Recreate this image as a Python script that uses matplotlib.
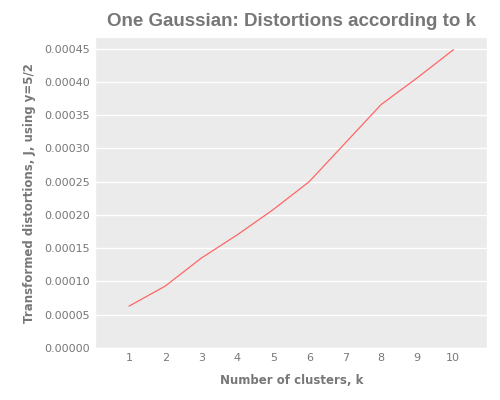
import matplotlib
matplotlib.use("Agg")
import matplotlib.pyplot as plt

k = [1, 2, 3, 4, 5, 6, 7, 8, 9, 10]
distortions = [0.000063, 0.000093, 0.000135, 0.000170, 0.000208, 0.000250, 0.000308, 0.000366, 0.000406, 0.000448]

plt.style.use("ggplot")
fig, ax = plt.subplots(figsize=(5, 4), dpi=100)
fig.subplots_adjust(left=0.19, right=0.975, bottom=0.13, top=0.907)
ax.set_facecolor("#ebebeb")
ax.plot(k, distortions, color="#ff6666", linewidth=0.9)
ax.set_xlim(0.05, 10.95)
ax.set_ylim(0, 0.000467)
ax.set_xticks(k)
ax.set_yticks([i * 0.00005 for i in range(10)])
ax.yaxis.set_major_formatter(matplotlib.ticker.FormatStrFormatter("%.5f"))
ax.grid(axis="x", visible=False)
ax.grid(axis="y", color="white", linewidth=1)
ax.tick_params(colors="#777777", labelsize=8, length=0)
for t in ax.get_xticklabels() + ax.get_yticklabels():
    t.set_color("#777777")
ax.set_title("One Gaussian: Distortions according to k", fontsize=13.5, fontweight="bold",
             color="#777777", family=["Liberation Sans", "DejaVu Sans"], pad=8)
ax.set_xlabel("Number of clusters, k", fontsize=8.5, fontweight="bold", color="#777777", labelpad=8)
ax.set_ylabel("Transformed distortions, J, using y=5/2", fontsize=8.5, fontweight="bold", color="#777777", labelpad=6)
fig.savefig("out.png")
